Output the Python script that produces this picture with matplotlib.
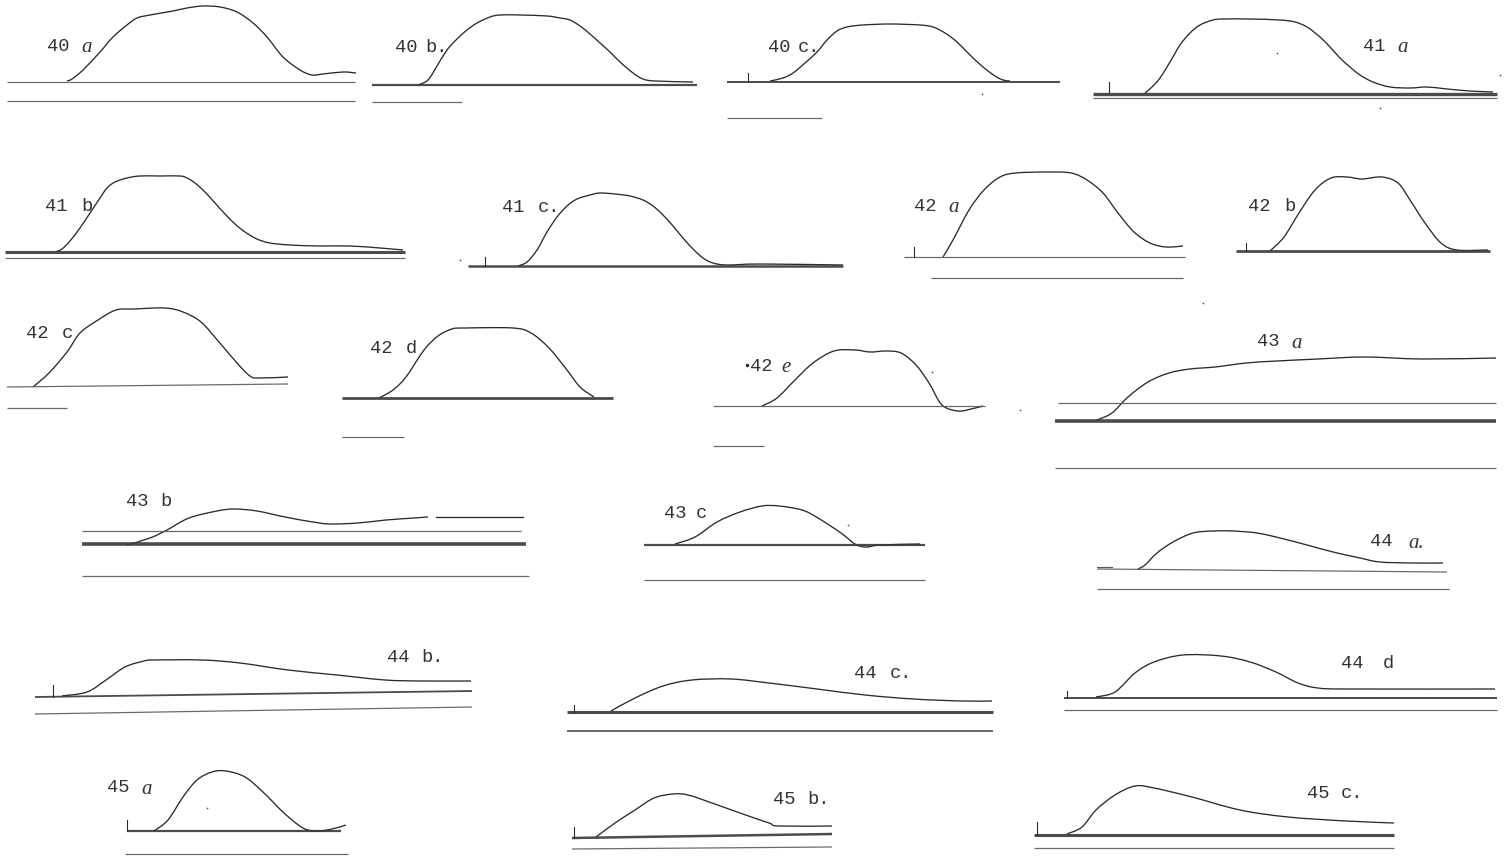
import matplotlib
matplotlib.use("Agg")
import matplotlib.pyplot as plt
from matplotlib.path import Path
from matplotlib.patches import PathPatch

# traced myogram curves, x / y in sheet pixels (y grows downward)
x_40a = [67, 72, 83, 100, 113, 127, 137, 150, 173, 187, 203, 220, 237, 253, 267, 283, 300, 312, 323, 343, 356]
y_40a = [81, 79, 70, 52, 37, 25, 18, 15, 11, 8, 6, 7, 12, 23, 37, 57, 70, 75, 74, 72, 73]

x_40b = [418, 428, 437, 447, 457, 467, 477, 490, 500, 520, 547, 560, 570, 580, 590, 600, 610, 620, 633, 643, 655, 693]
y_40b = [85, 80, 66, 50, 39, 30, 23, 17, 15, 15, 16, 18, 20, 26, 34, 43, 52, 62, 73, 79, 81, 82]

x_40c = [770, 783, 793, 805, 817, 827, 837, 847, 863, 890, 920, 933, 945, 957, 970, 983, 995, 1003, 1010]
y_40c = [81, 78, 73, 63, 52, 40, 31, 27, 25, 24, 25, 27, 33, 42, 55, 67, 76, 80, 81]

x_41a = [1145, 1152, 1160, 1170, 1180, 1190, 1200, 1213, 1223, 1250, 1280, 1295, 1307, 1320, 1330, 1340,
         1350, 1360, 1373, 1390, 1410, 1427, 1447, 1470, 1493]
y_41a = [93, 87, 78, 62, 45, 33, 25, 20, 19, 19, 20, 22, 27, 37, 47, 58, 67, 75, 82, 87, 88, 87, 89, 91, 92]

x_41b = [55, 62, 70, 80, 90, 100, 107, 115, 127, 140, 160, 180, 187, 195, 205, 215, 225, 235, 245, 257,
         270, 290, 320, 350, 380, 403]
y_41b = [252, 249, 241, 228, 213, 198, 188, 182, 178, 176, 176, 176, 178, 183, 192, 203, 214, 224, 232, 239,
         243, 245, 246, 246, 248, 250]

x_41c = [518, 527, 537, 547, 557, 567, 577, 590, 600, 615, 630, 643, 653, 663, 673, 683, 693, 703, 713, 727, 760, 843]
y_41c = [266, 262, 250, 232, 217, 206, 199, 195, 193, 194, 196, 200, 206, 215, 226, 238, 249, 258, 263, 265, 264, 265]

x_42a = [943, 953, 969, 984, 1000, 1016, 1047, 1071, 1087, 1103, 1118, 1134, 1150, 1166, 1183]
y_42a = [257, 240, 210, 190, 177, 173, 172, 173, 180, 193, 213, 232, 243, 247, 246]

x_42b = [1270, 1284, 1299, 1315, 1331, 1347, 1362, 1382, 1398, 1410, 1425, 1441, 1457, 1488]
y_42b = [251, 237, 213, 190, 178, 177, 179, 177, 183, 200, 223, 243, 250, 250]

x_42c = [33, 49, 67, 80, 98, 116, 134, 165, 183, 201, 219, 237, 250, 259, 288]
y_42c = [387, 373, 352, 333, 320, 310, 309, 308, 312, 322, 342, 363, 376, 378, 377]

x_42d = [379, 393, 406, 424, 438, 452, 465, 513, 531, 549, 567, 580, 594]
y_42d = [398, 390, 377, 350, 336, 329, 328, 328, 333, 348, 370, 387, 397]

x_42e = [762, 777, 795, 813, 834, 855, 870, 886, 901, 916, 929, 942, 958, 971, 983]
y_42e = [406, 398, 380, 363, 351, 350, 352, 351, 353, 365, 383, 405, 411, 409, 406]

x_43a = [1097, 1112, 1128, 1148, 1169, 1190, 1215, 1246, 1277, 1318, 1365, 1422, 1496]
y_43a = [420, 413, 397, 382, 373, 369, 367, 363, 361, 359, 357, 359, 358]

x_43b = [127, 150, 167, 189, 217, 234, 257, 285, 313, 330, 358, 386, 414, 428]
y_43b = [545, 538, 530, 518, 511, 509, 511, 517, 522, 524, 523, 520, 518, 517]
x_43b_tail = [436, 523]
y_43b_tail = [517, 517]

x_43c = [675, 695, 717, 740, 762, 779, 802, 818, 841, 855, 866, 880, 920]
y_43c = [544, 537, 522, 512, 506, 506, 510, 518, 533, 544, 547, 545, 544]

x_44a = [1138, 1145, 1157, 1173, 1193, 1213, 1233, 1257, 1280, 1307, 1333, 1360, 1380, 1413, 1443]
y_44a = [569, 565, 553, 542, 533, 531, 531, 533, 538, 545, 552, 558, 562, 563, 563]

x_44b = [62, 87, 106, 125, 144, 154, 202, 240, 288, 337, 385, 423, 471]
y_44b = [696, 692, 680, 667, 661, 660, 660, 663, 670, 675, 680, 681, 681]

x_44c = [611, 635, 663, 692, 731, 769, 817, 865, 913, 962, 992]
y_44c = [711, 698, 686, 680, 679, 683, 689, 695, 699, 701, 701]

x_44d = [1096, 1115, 1135, 1154, 1183, 1221, 1250, 1276, 1298, 1318, 1350, 1495]
y_44d = [697, 692, 673, 662, 655, 656, 662, 672, 683, 688, 689, 689]

x_45a = [154, 168, 183, 197, 212, 226, 245, 264, 284, 303, 317, 332, 346]
y_45a = [831, 820, 797, 780, 772, 771, 777, 793, 813, 828, 831, 829, 825]

x_45b = [596, 615, 635, 654, 673, 688, 712, 740, 769, 779, 832]
y_45b = [837, 823, 810, 798, 794, 795, 803, 813, 823, 826, 826]

x_45c = [1067, 1082, 1096, 1115, 1135, 1154, 1192, 1240, 1288, 1346, 1394]
y_45c = [834, 827, 810, 795, 786, 788, 797, 810, 817, 821, 823]

# dust specks on the sheet
speck_x = [982, 1500, 848, 932, 207, 1277, 1380, 1020, 460, 1203]
speck_y = [94, 75, 525, 372, 808, 53, 108, 410, 260, 303]

INK = "#2a2a2a"
RULE = "#5a5a5a"
THIN = 0.9

fig = plt.figure(figsize=(15.07, 8.56), dpi=100)
ax = fig.add_axes([0, 0, 1, 1])
ax.set_xlim(0, 1507)
ax.set_ylim(856, 0)
ax.axis("off")


def rule(x0, x1, y0, y1=None, w=THIN):
    if y1 is None:
        y1 = y0
    ax.plot([x0, x1], [y0, y1], color=RULE if w == THIN else "#383838", lw=w,
            solid_capstyle="butt", alpha=0.9)


def tick(x, y, h=10):
    ax.plot([x, x], [y - h, y], color=INK, lw=0.8)


def label(x, y, num, suf, off=34, italic=True):
    ax.text(x, y, num, family="Liberation Mono", fontsize=13.5, color="#333333",
            va="center", ha="left")
    if italic:
        ax.text(x + off, y + 1, suf, family="Liberation Serif", style="italic",
                fontsize=15, color="#333333", va="center", ha="left")
    else:
        ax.text(x + off, y, suf, family="Liberation Mono", fontsize=13.5,
                color="#333333", va="center", ha="left")


def trace(xs, ys):
    # smooth pen line through the traced points (Catmull-Rom as Bezier segments)
    pts = list(zip(xs, ys))
    if len(pts) < 3:
        ax.plot(xs, ys, color=INK, lw=0.95)
        return
    verts = [pts[0]]
    codes = [Path.MOVETO]
    n = len(pts)
    for i in range(n - 1):
        p0 = pts[max(i - 1, 0)]
        p1 = pts[i]
        p2 = pts[i + 1]
        p3 = pts[min(i + 2, n - 1)]
        c1 = (p1[0] + (p2[0] - p0[0]) / 6, p1[1] + (p2[1] - p0[1]) / 6)
        c2 = (p2[0] - (p3[0] - p1[0]) / 6, p2[1] - (p3[1] - p1[1]) / 6)
        verts += [c1, c2, p2]
        codes += [Path.CURVE4] * 3
    ax.add_patch(PathPatch(Path(verts, codes), fill=False, edgecolor=INK,
                           lw=0.95, joinstyle="round"))


# row 1
rule(7, 355, 82); rule(7, 355, 101)
trace(x_40a, y_40a); label(47, 46, "40", "a")

rule(372, 697, 85, w=1.6); rule(372, 462, 102)
trace(x_40b, y_40b); label(395, 47, "40", "b.", off=30, italic=False)

rule(727, 1060, 82, w=1.4); rule(727, 822, 118); tick(748, 82, 9)
trace(x_40c, y_40c); label(768, 47, "40", "c.", off=30, italic=False)

rule(1093, 1497, 94, w=2.4); rule(1093, 1497, 98); tick(1109, 92, 10)
trace(x_41a, y_41a); label(1363, 46, "41", "a")

# row 2
rule(5, 405, 252, w=2.2); rule(5, 405, 258)
trace(x_41b, y_41b); label(45, 206, "41", "b", off=36, italic=False)

rule(468, 843, 266, w=1.8); tick(485, 266, 9)
trace(x_41c, y_41c); label(502, 207, "41", "c.", off=36, italic=False)

rule(904, 1185, 257); rule(931, 1183, 278); tick(914, 257, 10)
trace(x_42a, y_42a); label(914, 206, "42", "a")

rule(1236, 1490, 251, w=2.0); tick(1246, 251, 8)
trace(x_42b, y_42b); label(1248, 206, "42", "b", off=36, italic=False)

# row 3
rule(7, 288, 387, 384); rule(7, 67, 408)
trace(x_42c, y_42c); label(26, 333, "42", "c", off=36, italic=False)

rule(342, 613, 398, w=2.0); rule(342, 404, 437)
trace(x_42d, y_42d); label(370, 348, "42", "d", off=36, italic=False)

rule(713, 985, 406); rule(713, 764, 446)
trace(x_42e, y_42e); label(750, 366, "42", "e", off=31)
ax.plot([747], [365], marker="o", ms=1.5, color=INK)

rule(1058, 1496, 403); rule(1055, 1496, 421, w=2.6); rule(1055, 1496, 468)
trace(x_43a, y_43a); label(1257, 342, "43", "a")

# row 4
rule(82, 521, 531); rule(82, 526, 544, w=2.6); rule(82, 529, 576)
trace(x_43b, y_43b); trace(x_43b_tail, y_43b_tail)
label(126, 501, "43", "b", off=34, italic=False)

rule(644, 925, 545, w=1.6); rule(644, 925, 580)
trace(x_43c, y_43c); label(664, 514, "43", "c", off=32, italic=False)

rule(1097, 1447, 569, 572); rule(1097, 1449, 589)
ax.plot([1097, 1112], [567, 567], color=RULE, lw=0.8)
trace(x_44a, y_44a); label(1370, 542, "44", "a.", off=38)

# row 5
rule(35, 472, 697, 691, w=1.3); rule(35, 472, 714, 707)
tick(53, 697, 12)
trace(x_44b, y_44b); label(387, 658, "44", "b.", off=34, italic=False)

rule(567, 993, 712, w=2.2); rule(567, 993, 731, w=1.2); tick(574, 712, 7)
trace(x_44c, y_44c); label(854, 673, "44", "c.", off=36, italic=False)

rule(1064, 1497, 698, w=1.4); rule(1064, 1497, 710); tick(1067, 698, 7)
trace(x_44d, y_44d); label(1341, 663, "44", "d", off=42, italic=False)

# row 6
rule(127, 341, 831, w=1.6); rule(125, 348, 854); tick(127, 831, 11)
trace(x_45a, y_45a); label(107, 788, "45", "a")

rule(572, 832, 838, 834, w=1.8); rule(572, 832, 849, 847); tick(574, 838, 11)
trace(x_45b, y_45b); label(773, 799, "45", "b.", off=34, italic=False)

rule(1034, 1394, 835, w=2.2); rule(1034, 1394, 848); tick(1037, 835, 13)
trace(x_45c, y_45c); label(1307, 794, "45", "c.", off=34, italic=False)

ax.scatter(speck_x, speck_y, s=1.5, color="#555555", linewidths=0)

fig.savefig("out.png", dpi=100, facecolor="white")
